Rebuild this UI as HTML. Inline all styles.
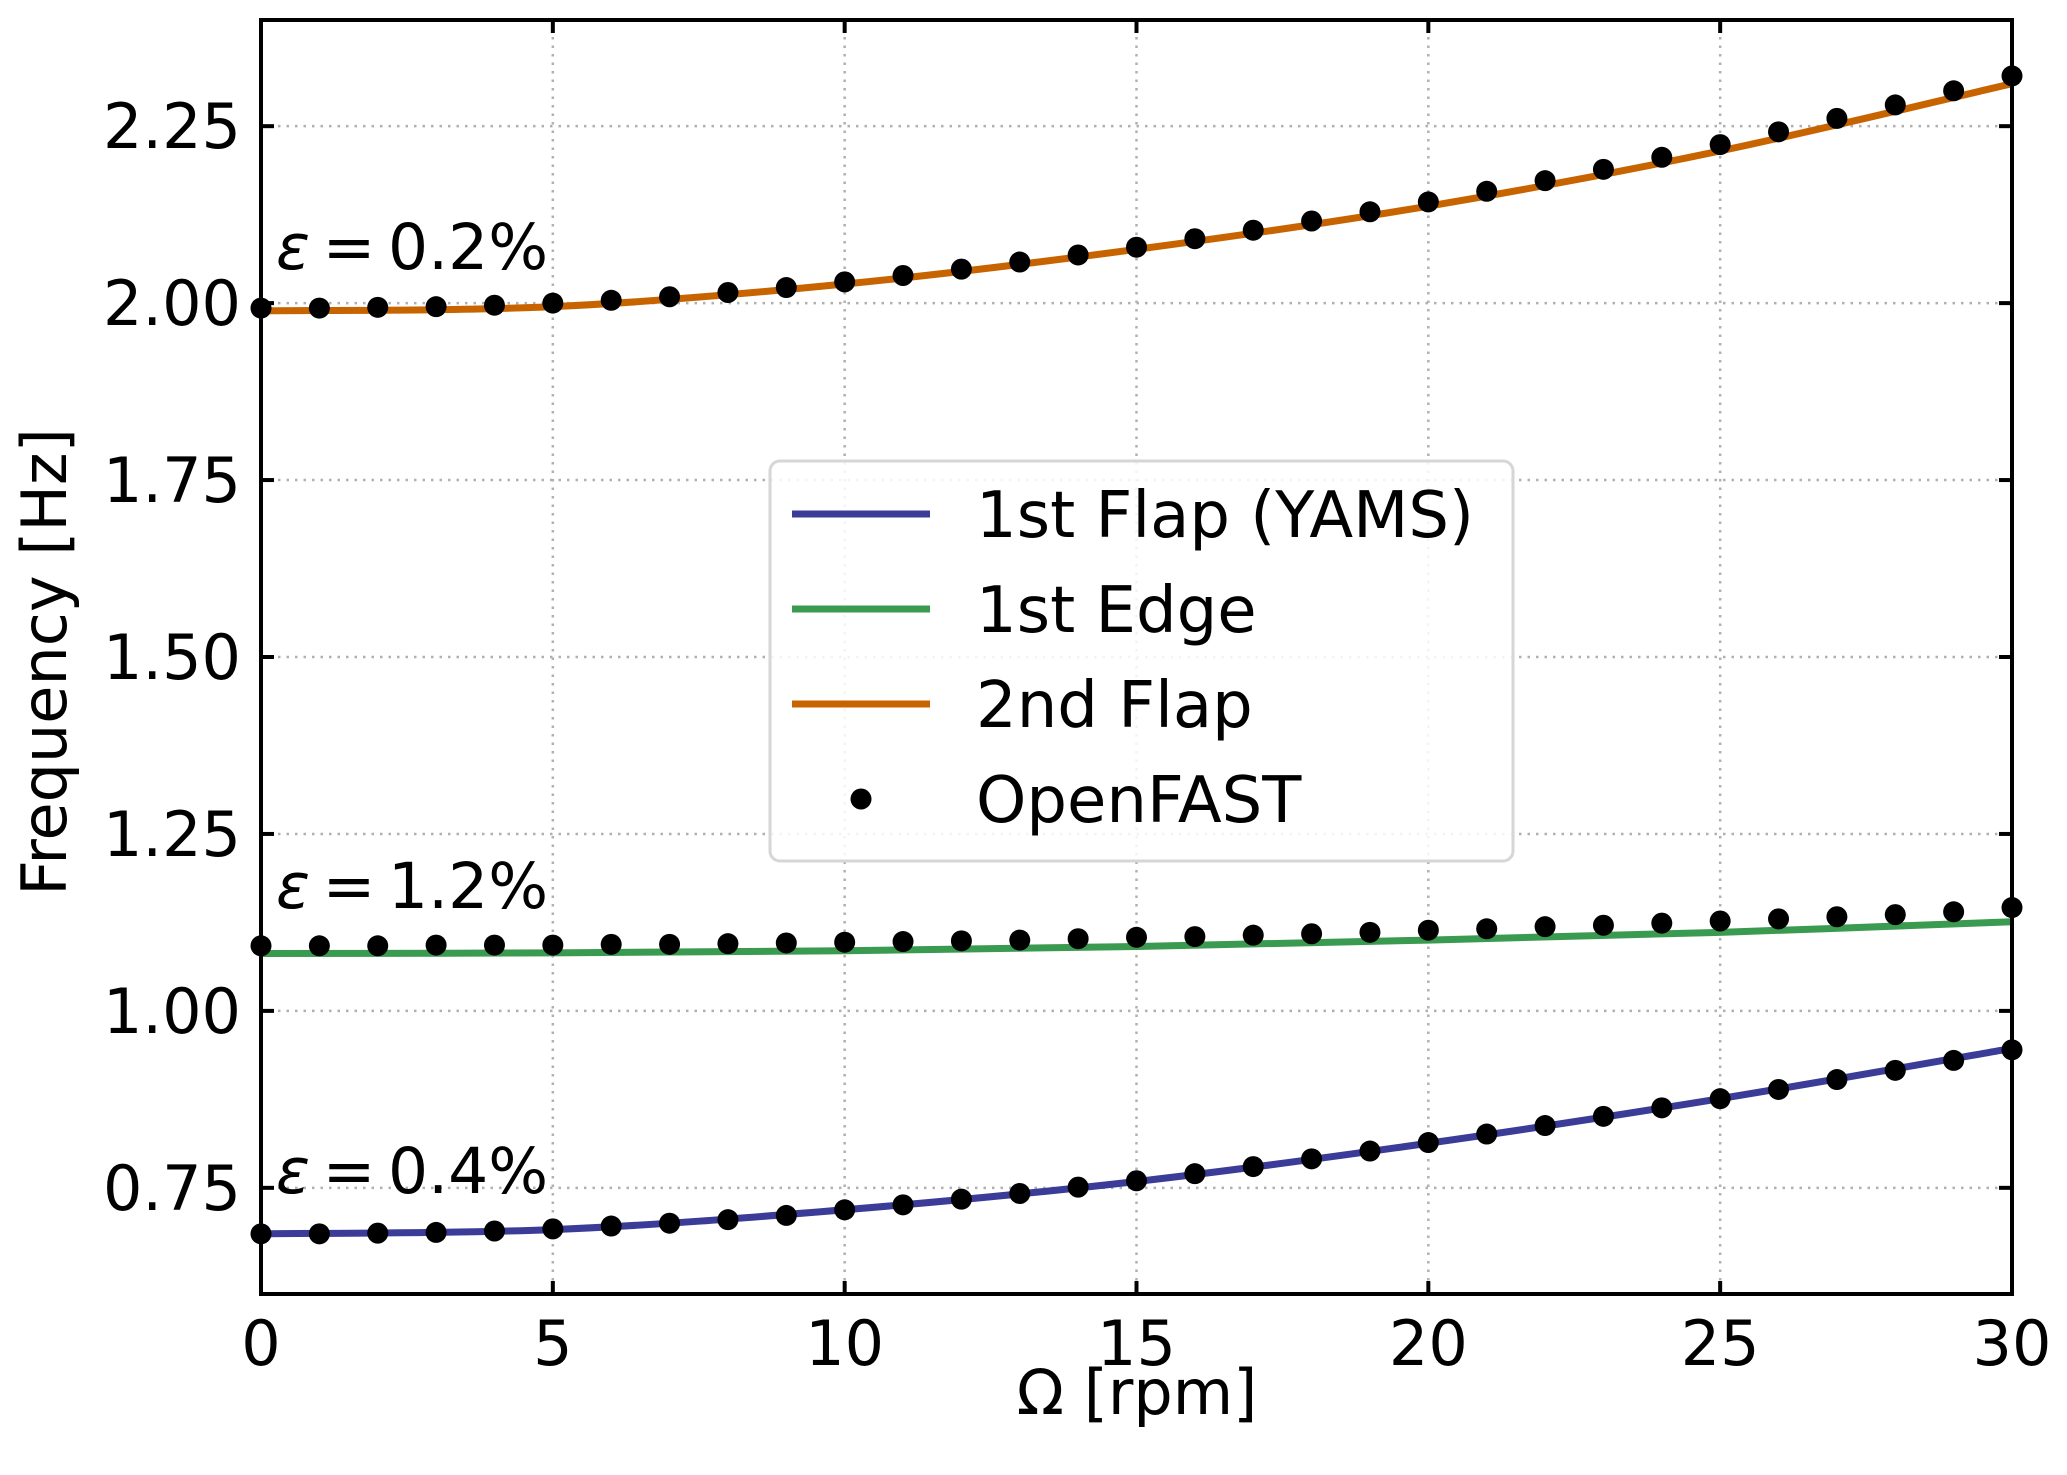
<!DOCTYPE html>
<html><head><meta charset="utf-8"><style>
html,body{margin:0;padding:0;background:#fff;}
svg{display:block;font-family:"DejaVu Sans","Liberation Sans",sans-serif;}
</style></head><body>
<svg id="chart" width="2067" height="1475" viewBox="0 0 2067 1475">
<g id="grid"></g>
<g id="series"></g>
<g id="axes"></g>
<text x="276" y="269" font-size="63"><tspan font-style="italic">ε</tspan>&#8201;=&#8201;0.2%</text>
<text x="276" y="908" font-size="63"><tspan font-style="italic">ε</tspan>&#8201;=&#8201;1.2%</text>
<text x="276" y="1193" font-size="63"><tspan font-style="italic">ε</tspan>&#8201;=&#8201;0.4%</text>
<text x="1137" y="1414" font-size="62" text-anchor="middle">Ω [rpm]</text>
<text transform="translate(66,662) rotate(-90)" font-size="62" text-anchor="middle">Frequency [Hz]</text>
<g>
<rect x="770" y="461" width="743" height="400" rx="10" fill="#fff" fill-opacity="0.85" stroke="#d6d6d6" stroke-width="3"/>
<line x1="792" y1="514" x2="930" y2="514" stroke="#3b3b98" stroke-width="7"/>
<text x="976" y="537" font-size="64">1st Flap (YAMS)</text>
<line x1="792" y1="609" x2="930" y2="609" stroke="#3a9a50" stroke-width="7"/>
<text x="976" y="632" font-size="64">1st Edge</text>
<line x1="792" y1="704" x2="930" y2="704" stroke="#c86400" stroke-width="7"/>
<text x="976" y="727" font-size="64">2nd Flap</text>
<circle cx="861" cy="799" r="10.5" fill="#000"/>
<text x="976" y="822" font-size="64">OpenFAST</text>
</g>
</svg>
<script>
const xTicks = [0,5,10,15,20,25,30];
const yTicks = [0.75,1.00,1.25,1.50,1.75,2.00,2.25];
const yTickLabels = ["0.75","1.00","1.25","1.50","1.75","2.00","2.25"];
const lineRpm = [0,5,10,15,20,25,30];
const flap1Line = [0.685,0.691,0.719,0.759,0.813,0.876,0.947];
const edgeLine = [1.081,1.082,1.085,1.091,1.100,1.111,1.126];
const flap2Line = [1.989,1.995,2.027,2.076,2.137,2.215,2.310];
const dotRpm = [0,1,2,3,4,5,6,7,8,9,10,11,12,13,14,15,16,17,18,19,20,21,22,23,24,25,26,27,28,29,30];
const flap1Dots = [0.685,0.685,0.686,0.687,0.689,0.692,0.696,0.700,0.705,0.711,0.719,0.726,0.734,0.742,0.751,0.760,0.770,0.780,0.791,0.802,0.814,0.826,0.838,0.851,0.863,0.876,0.889,0.903,0.916,0.930,0.945];
const edgeDots = [1.092,1.092,1.092,1.093,1.093,1.093,1.094,1.094,1.095,1.096,1.097,1.098,1.099,1.100,1.102,1.104,1.105,1.107,1.109,1.111,1.114,1.116,1.119,1.121,1.124,1.127,1.130,1.133,1.136,1.140,1.146];
const flap2Dots = [1.993,1.993,1.994,1.995,1.997,2.000,2.004,2.009,2.015,2.022,2.030,2.039,2.048,2.058,2.068,2.079,2.091,2.103,2.116,2.129,2.143,2.158,2.173,2.189,2.206,2.224,2.242,2.261,2.280,2.300,2.321];

const NS = "http://www.w3.org/2000/svg";
const L=261,R=2012,T=20,B=1294;
const X0=0,X1=30,Y0=0.6,Y1=2.4;
function sx(v){return L+(v-X0)/(X1-X0)*(R-L);}
function sy(v){return B-(v-Y0)/(Y1-Y0)*(B-T);}
function mk(tag,attrs,parent){const e=document.createElementNS(NS,tag);for(const k in attrs)e.setAttribute(k,attrs[k]);parent.appendChild(e);return e;}
const grid=document.getElementById('grid'),axes=document.getElementById('axes'),series=document.getElementById('series');

xTicks.forEach(t=>{
  const x=sx(t);
  if(t>X0&&t<X1){
    const g=mk('line',{x1:x,y1:T,x2:x,y2:B,stroke:'#b0b0b0','stroke-width':2.5,'stroke-dasharray':'2.5 6'},grid);
    
    
  }
  const a=mk('line',{x1:x,y1:B,x2:x,y2:B-13,stroke:'#000','stroke-width':4},axes);
  
  
  const b=mk('line',{x1:x,y1:T,x2:x,y2:T+13,stroke:'#000','stroke-width':4},axes);
  
  
  const tx=mk('text',{x:x,y:1365,'font-size':62,'text-anchor':'middle'},axes);
  tx.textContent=String(t);
  
  
});
yTicks.forEach((t,i)=>{
  const y=sy(t);
  const g=mk('line',{x1:L,y1:y,x2:R,y2:y,stroke:'#b0b0b0','stroke-width':2.5,'stroke-dasharray':'2.5 6'},grid);
  
  
  const a=mk('line',{x1:L,y1:y,x2:L+13,y2:y,stroke:'#000','stroke-width':4},axes);
  
  
  const b=mk('line',{x1:R,y1:y,x2:R-13,y2:y,stroke:'#000','stroke-width':4},axes);
  
  
  const tx=mk('text',{x:241,y:y+22,'font-size':62,'text-anchor':'end'},axes);
  tx.textContent=yTickLabels[i];
  
  
});
const frame=mk('rect',{x:L,y:T,width:R-L,height:B-T,fill:'none',stroke:'#000','stroke-width':4},axes);



function smoothPath(xs,ys){
  const p=xs.map((x,i)=>[sx(x),sy(ys[i])]);
  let d=`M${p[0][0]},${p[0][1]}`;
  for(let i=0;i<p.length-1;i++){
    const p0=p[Math.max(0,i-1)],p1=p[i],p2=p[i+1],p3=p[Math.min(p.length-1,i+2)];
    const c1=[p1[0]+(p2[0]-p0[0])/6,p1[1]+(p2[1]-p0[1])/6];
    const c2=[p2[0]-(p3[0]-p1[0])/6,p2[1]-(p3[1]-p1[1])/6];
    d+=` C${c1[0]},${c1[1]} ${c2[0]},${c2[1]} ${p2[0]},${p2[1]}`;
  }
  return d;
}
const lines=[[flap1Line,'#3b3b98','line-1st-flap'],[edgeLine,'#3a9a50','line-1st-edge'],[flap2Line,'#c86400','line-2nd-flap']];
lines.forEach(([vals,col,name])=>{
  const p=mk('path',{d:smoothPath(lineRpm,vals),fill:'none',stroke:col,'stroke-width':7},series);
  
  
});
[[flap1Dots,'openfast-point-1st-flap'],[edgeDots,'openfast-point-1st-edge'],[flap2Dots,'openfast-point-2nd-flap']].forEach(([vals,name])=>{
  vals.forEach((v,i)=>{
    const c=mk('circle',{cx:sx(dotRpm[i]),cy:sy(v),r:10.5,fill:'#000'},series);
    
    
  });
});
</script>
</body></html>
